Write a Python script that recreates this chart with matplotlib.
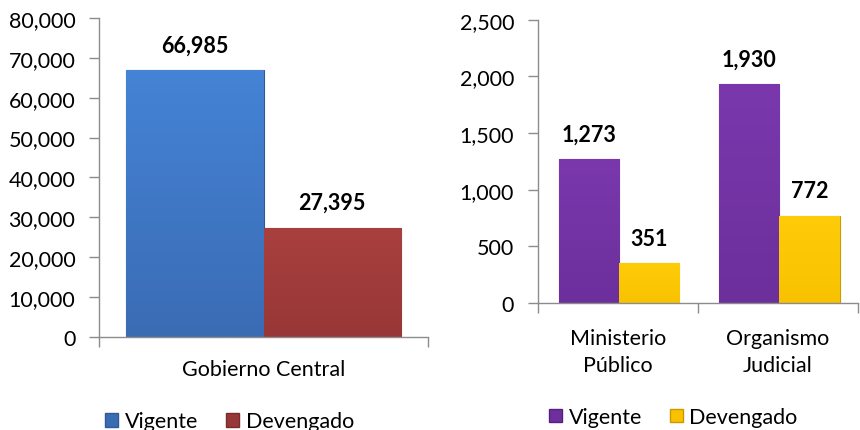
import matplotlib
matplotlib.use("Agg")
import matplotlib.pyplot as plt
import numpy as np
from matplotlib.colors import LinearSegmentedColormap
from matplotlib.patches import Patch

plt.rcParams['font.family'] = ['Lato', 'DejaVu Sans']

# Data
left_categories = ["Gobierno Central"]
left_vigente = [66985]
left_devengado = [27395]
left_yticks = [0, 10000, 20000, 30000, 40000, 50000, 60000, 70000, 80000]

right_categories = ["Ministerio\nPúblico", "Organismo\nJudicial"]
right_vigente = [1273, 1930]
right_devengado = [351, 772]
right_yticks = [0, 500, 1000, 1500, 2000, 2500]

series_names = ["Vigente", "Devengado"]

# Styles (top, bottom, edge)
C_BLUE = ("#4583D6", "#3A6CB4", "#2F5A98")
C_RED = ("#A8403F", "#983737", "#7A2C2C")
C_PURPLE = ("#7A38AC", "#6C2F9C", "#56247F")
C_YELLOW = ("#FFCC0A", "#F8C200", "#C99B00")
SPINE = "#8C8C8C"
FS = 15.5

fig = plt.figure(figsize=(8.6, 4.31), dpi=100)
axL = fig.add_axes([0.1151, 0.2165, 0.3826, 0.7394])
axR = fig.add_axes([0.6252, 0.2947, 0.3724, 0.6573])


def shade_bars(ax, bars, cols):
    top, bot, edge = cols
    cmap = LinearSegmentedColormap.from_list("g", [bot, top])
    grad = np.linspace(0, 1, 256).reshape(-1, 1)
    for b in bars:
        b.set_facecolor(bot)
        b.set_edgecolor(edge)
        b.set_linewidth(0.8)
        x0, y0 = b.get_x(), b.get_y()
        w, h = b.get_width(), b.get_height()
        im = ax.imshow(grad, cmap=cmap, origin="lower", aspect="auto",
                       extent=[x0, x0 + w, y0, y0 + h], zorder=2.5,
                       interpolation="bilinear")
        im.set_clip_path(b)


def style_axes(ax, ncat, ymax, yticks):
    ax.set_xlim(-0.5, ncat - 0.5)
    ax.set_ylim(0, ymax)
    ax.set_yticks(yticks)
    ax.set_yticklabels([f"{v:,}" for v in yticks], fontsize=FS)
    for s in ("top", "right"):
        ax.spines[s].set_visible(False)
    for s in ("left", "bottom"):
        ax.spines[s].set_color(SPINE)
        ax.spines[s].set_linewidth(1.0)
    ax.tick_params(axis="y", length=7, width=1, color=SPINE, pad=10)
    ax.set_xticks(np.arange(ncat + 1) - 0.5)
    ax.set_xticklabels([])
    ax.tick_params(axis="x", which="major", length=7, width=1, color=SPINE, direction="out")


def label_bars(ax, bars, values):
    for b, v in zip(bars, values):
        ax.annotate(f"{v:,}", (b.get_x() + b.get_width() / 2, b.get_height()),
                    xytext=(0, 18), textcoords="offset points",
                    ha="center", va="center", fontsize=FS, fontweight="bold")


# Left chart
xL = np.arange(len(left_categories))
wL = 0.418
b1 = axL.bar(xL - wL / 2, left_vigente, wL, zorder=2)
b2 = axL.bar(xL + wL / 2, left_devengado, wL, zorder=2)
shade_bars(axL, b1, C_BLUE)
shade_bars(axL, b2, C_RED)
style_axes(axL, len(left_categories), 80000, left_yticks)
axL.set_xticks(xL, minor=True)
axL.set_xticklabels(left_categories, minor=True, fontsize=FS)
axL.tick_params(axis="x", which="minor", length=0, pad=16)
label_bars(axL, b1, left_vigente)
label_bars(axL, b2, left_devengado)

# Right chart
xR = np.arange(len(right_categories))
wR = 0.375
b3 = axR.bar(xR - wR / 2 + 0.01, right_vigente, wR, zorder=2)
b4 = axR.bar(xR + wR / 2 + 0.01, right_devengado, wR, zorder=2)
shade_bars(axR, b3, C_PURPLE)
shade_bars(axR, b4, C_YELLOW)
style_axes(axR, len(right_categories), 2500, right_yticks)
axR.set_xticks(xR, minor=True)
axR.set_xticklabels(right_categories, minor=True, fontsize=FS, linespacing=1.42)
axR.tick_params(axis="x", which="minor", length=0, pad=18)
label_bars(axR, b3, right_vigente)
label_bars(axR, b4, right_devengado)

# Legends
def make_legend(cols, cx, cy):
    handles = [Patch(facecolor=cols[0][1], edgecolor=cols[0][2], label=series_names[0]),
               Patch(facecolor=cols[1][1], edgecolor=cols[1][2], label=series_names[1])]
    fig.legend(handles=handles, loc="center", bbox_to_anchor=(cx, cy), ncol=2,
               frameon=False, fontsize=FS, handlelength=0.6, handleheight=0.6,
               handletextpad=0.3, columnspacing=1.3, borderaxespad=0)

make_legend((C_BLUE, C_RED), 0.267, 0.020)
make_legend((C_PURPLE, C_YELLOW), 0.783, 0.030)

fig.savefig("out.png", dpi=100)
